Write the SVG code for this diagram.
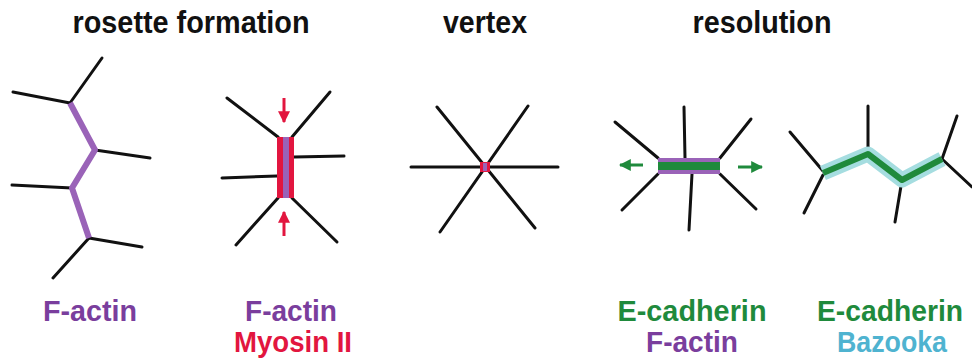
<svg xmlns="http://www.w3.org/2000/svg" width="972" height="359" viewBox="0 0 972 359">
  <style>
    .title { font-family: "Liberation Sans", Arial, sans-serif; font-weight: bold; font-size: 31px; fill: #111; text-anchor: middle; }
    .lab { font-family: "Liberation Sans", Arial, sans-serif; font-weight: bold; font-size: 30px; text-anchor: middle; }
    .edge { stroke: #111; stroke-width: 3; fill: none; stroke-linecap: round; }
    .actin { stroke: #9a63b8; stroke-width: 6; fill: none; stroke-linejoin: round; }
    .c-actin { fill: #7a3e9d; }
    .c-myo { fill: #e2163f; }
    .c-ecad { fill: #1f8a3c; }
    .c-baz { fill: #4fb3d0; }
  </style>
  <defs>
    <marker id="headRed" viewBox="0 0 10 10" refX="9" refY="5" markerWidth="12" markerHeight="12" markerUnits="userSpaceOnUse" orient="auto">
      <path d="M0,0 L10,5 L0,10 Z" fill="#e2163f"/>
    </marker>
    <marker id="headGreen" viewBox="0 0 10 10" refX="9" refY="5" markerWidth="12" markerHeight="12" markerUnits="userSpaceOnUse" orient="auto">
      <path d="M0,0 L10,5 L0,10 Z" fill="#1f8a3c"/>
    </marker>
  </defs>

  <!-- titles -->
  <g id="titles">
    <text class="title" x="191" y="33" textLength="237" lengthAdjust="spacingAndGlyphs">rosette formation</text>
    <text class="title" x="485" y="33" textLength="84" lengthAdjust="spacingAndGlyphs">vertex</text>
    <text class="title" x="762" y="33" textLength="139" lengthAdjust="spacingAndGlyphs">resolution</text>
  </g>

  <!-- stage 1: aligned F-actin cable -->
  <g id="stage-rosette">
    <g class="edges">
      <line class="edge" x1="102" y1="58" x2="70" y2="103"/>
      <line class="edge" x1="13" y1="92" x2="70" y2="103"/>
      <line class="edge" x1="95" y1="150" x2="150" y2="158"/>
      <line class="edge" x1="12" y1="185" x2="72" y2="188"/>
      <line class="edge" x1="89" y1="238" x2="142" y2="247"/>
      <line class="edge" x1="89" y1="238" x2="53" y2="278"/>
    </g>
    <polyline class="actin" points="70,103 95,150 72,188 89,238"/>
  </g>

  <!-- stage 2: contracting junction -->
  <g id="stage-contract">
    <g class="edges">
      <line class="edge" x1="227" y1="98" x2="278" y2="137"/>
      <line class="edge" x1="330" y1="92" x2="292" y2="137"/>
      <line class="edge" x1="294" y1="157" x2="344" y2="156"/>
      <line class="edge" x1="222" y1="178" x2="277" y2="176"/>
      <line class="edge" x1="278" y1="198" x2="236" y2="245"/>
      <line class="edge" x1="292" y1="198" x2="337" y2="242"/>
    </g>
    <rect x="277" y="137" width="17" height="61" fill="#e2163f"/>
    <rect x="283" y="137" width="6" height="61" fill="#9a63b8"/>
    <line x1="284" y1="98" x2="284" y2="122" stroke="#e2163f" stroke-width="3" marker-end="url(#headRed)"/>
    <line x1="284" y1="236" x2="284" y2="212" stroke="#e2163f" stroke-width="3" marker-end="url(#headRed)"/>
  </g>

  <!-- stage 3: multicellular vertex -->
  <g id="stage-vertex">
    <line class="edge" x1="411" y1="167" x2="558" y2="167"/>
    <line class="edge" x1="437" y1="107" x2="535" y2="228"/>
    <line class="edge" x1="528" y1="106" x2="440" y2="232"/>
    <rect x="480" y="162" width="10" height="10" fill="#e2163f"/>
    <rect x="483" y="163" width="4" height="8" fill="#9a63b8"/>
  </g>

  <!-- stage 4: new junction extends -->
  <g id="stage-extend">
    <g class="edges">
      <line class="edge" x1="615" y1="122" x2="658" y2="158"/>
      <line class="edge" x1="658" y1="174" x2="622" y2="210"/>
      <line class="edge" x1="684" y1="107" x2="685" y2="158"/>
      <line class="edge" x1="692" y1="174" x2="689" y2="230"/>
      <line class="edge" x1="720" y1="158" x2="751" y2="119"/>
      <line class="edge" x1="720" y1="174" x2="756" y2="209"/>
    </g>
    <rect x="658" y="158" width="62" height="16" fill="#9a63b8"/>
    <rect x="658" y="162" width="62" height="8" fill="#1f8a3c"/>
    <line x1="643" y1="165" x2="620" y2="165" stroke="#1f8a3c" stroke-width="3" marker-end="url(#headGreen)"/>
    <line x1="738" y1="167" x2="762" y2="167" stroke="#1f8a3c" stroke-width="3" marker-end="url(#headGreen)"/>
  </g>

  <!-- stage 5: stabilised junctions -->
  <g id="stage-stable">
    <g class="edges">
      <line class="edge" x1="790" y1="132" x2="823" y2="171"/>
      <line class="edge" x1="823" y1="175" x2="804" y2="213"/>
      <line class="edge" x1="868" y1="106" x2="868" y2="154"/>
      <line class="edge" x1="902" y1="180" x2="895" y2="222"/>
      <line class="edge" x1="942" y1="159" x2="957" y2="116"/>
      <line class="edge" x1="942" y1="159" x2="972" y2="187"/>
    </g>
    <polyline points="823,173 868,154 902,180 942,159" fill="none" stroke="#a5dde0" stroke-width="15" stroke-linejoin="round"/>
    <polyline points="823,173 868,154 902,180 942,159" fill="none" stroke="#1f8a3c" stroke-width="6" stroke-linejoin="round"/>
  </g>

  <!-- protein labels -->
  <g id="labels">
    <text class="lab c-actin" x="90" y="321" textLength="94" lengthAdjust="spacingAndGlyphs">F-actin</text>
    <text class="lab c-actin" x="291" y="321" textLength="92" lengthAdjust="spacingAndGlyphs">F-actin</text>
    <text class="lab c-myo" x="293" y="352" textLength="118" lengthAdjust="spacingAndGlyphs">Myosin II</text>
    <text class="lab c-ecad" x="692" y="321" textLength="149" lengthAdjust="spacingAndGlyphs">E-cadherin</text>
    <text class="lab c-actin" x="692" y="352" textLength="92" lengthAdjust="spacingAndGlyphs">F-actin</text>
    <text class="lab c-ecad" x="890" y="321" textLength="146" lengthAdjust="spacingAndGlyphs">E-cadherin</text>
    <text class="lab c-baz" x="892" y="352" textLength="110" lengthAdjust="spacingAndGlyphs">Bazooka</text>
  </g>
</svg>
